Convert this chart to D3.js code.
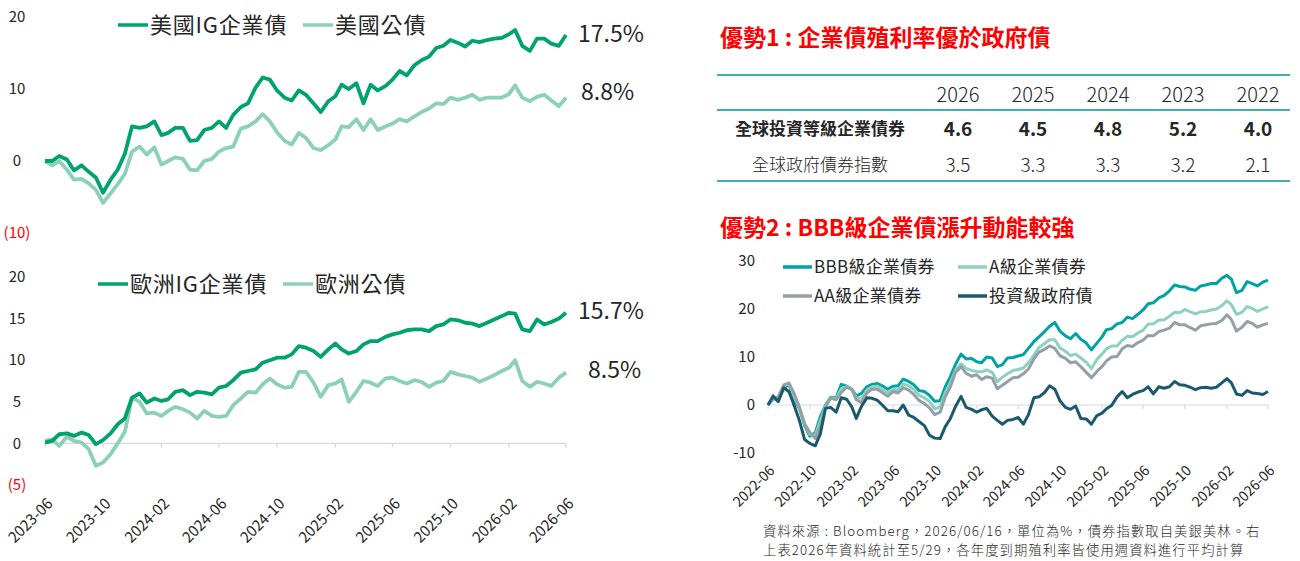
<!DOCTYPE html>
<html lang="zh-Hant">
<head>
<meta charset="UTF-8">
<title>IG bonds</title>
<script src="https://cdn.jsdelivr.net/npm/d3@7/dist/d3.min.js"></script>
<style>
    body { margin: 0; background: #fff; }
    svg text { font-family: "Noto Sans CJK TC", "Noto Sans", sans-serif; }
</style>
</head>
<body>
<script>

    // ---- data: left charts, half-month steps from 2023-06-16 to 2026-06-16 ----
    var usIG = [0, 0, 0.7, 0.2, -1.3, -0.6, -1.5, -2.3, -4.4, -2.6,
        -1.2, 1.0, 4.8, 4.6, 4.8, 5.5, 3.6, 3.9, 4.6, 4.6,
        2.8, 2.9, 4.3, 4.6, 5.5, 4.6, 6.4, 7.5, 8.0, 10.2,
        11.6, 11.3, 9.8, 8.8, 8.4, 9.8, 9.2, 8.0, 6.8, 8.3,
        9.0, 10.6, 10.0, 10.8, 8.0, 10.6, 9.8, 10.4, 11.3, 12.5,
        11.9, 13.3, 14.0, 14.5, 15.7, 16.0, 16.8, 16.4, 15.9, 16.7,
        16.5, 16.8, 17.0, 17.1, 17.6, 18.2, 16.0, 15.3, 17.0, 17.0,
        16.3, 16.0, 17.5];
    var usGov = [0, -0.6, 0.0, -1.2, -2.6, -2.5, -3.1, -4.0, -5.8, -4.5,
        -3.2, -1.8, 1.3, 2.0, 0.9, 1.9, -0.5, 0.0, 0.5, 0.3,
        -1.2, -1.3, 0.0, 0.3, 1.3, 1.8, 2.0, 4.5, 4.8, 5.5,
        6.5, 5.5, 4.0, 2.8, 2.3, 3.9, 3.2, 1.8, 1.5, 2.2,
        3.0, 4.8, 4.7, 5.8, 4.3, 5.8, 4.3, 4.8, 5.2, 5.8,
        5.5, 6.2, 6.8, 7.3, 8.0, 7.9, 8.8, 8.5, 8.8, 9.2,
        8.5, 8.8, 8.8, 8.8, 9.3, 10.5, 8.8, 8.3, 8.9, 9.2,
        8.4, 7.6, 8.8];
    var euIG = [0.1, 0.3, 1.1, 1.2, 0.9, 1.3, 1.0, -0.1, 0.4, 1.2,
        2.3, 3.0, 5.5, 6.0, 4.9, 5.4, 5.1, 5.3, 6.2, 6.4,
        5.8, 6.2, 6.1, 5.9, 6.7, 6.9, 7.6, 8.5, 8.7, 8.9,
        9.7, 10.0, 10.3, 10.3, 10.7, 11.7, 11.5, 11.1, 10.4, 11.3,
        12.0, 11.3, 10.8, 11.1, 11.9, 12.3, 12.3, 12.8, 13.1, 13.3,
        13.6, 13.7, 13.7, 13.5, 14.1, 14.3, 14.9, 14.8, 14.5, 14.4,
        14.1, 14.5, 14.9, 15.3, 15.7, 15.6, 13.7, 13.5, 14.9, 14.3,
        14.6, 15.0, 15.7];
    var euGov = [0.3, 0.5, -0.3, 0.8, 0.3, 0.1, -0.7, -2.7, -2.3, -1.3,
        0.0, 1.4, 5.5, 5.0, 3.6, 3.7, 3.3, 3.9, 4.4, 4.1,
        3.7, 3.0, 3.9, 3.3, 3.2, 3.3, 4.6, 5.4, 6.2, 6.1,
        7.1, 7.8, 7.1, 6.7, 6.8, 8.6, 8.6, 7.3, 5.6, 7.0,
        7.2, 7.7, 5.0, 6.2, 7.5, 7.3, 6.9, 7.8, 7.9, 7.5,
        7.2, 7.6, 7.4, 6.8, 7.3, 7.5, 8.6, 8.3, 8.1, 7.9,
        7.4, 7.8, 8.2, 8.7, 9.1, 10.0, 7.5, 6.8, 7.4, 7.2,
        6.9, 7.9, 8.5];

    // ---- data: right chart, half-month steps from 2022-06-16 to 2026-06-16 ----
    var bbb = [0, 1.4, 1.0, 3.5, 4.3, 1.0, -0.8, -4.3, -6.5, -5.8,
        -2.4, 0.0, 1.6, 1.5, 4.3, 3.9, 3.3, 1.9, 2.4, 3.8,
        4.3, 4.5, 4.0, 3.3, 3.9, 4.0, 5.4, 4.9, 4.2, 3.0,
        2.8, 2.0, 0.8, 0.9, 3.8, 5.9, 8.5, 10.6, 9.6, 9.7,
        9.0, 8.8, 10.0, 9.8, 8.0, 8.4, 9.8, 9.9, 10.2,
        10.5, 11.8, 13.2, 14.2, 15.3, 16.4, 17.2, 15.4, 14.4, 13.8,
        14.9, 13.7, 12.9, 11.5, 12.9, 14.2, 15.7, 15.9, 16.9, 17.2,
        18.3, 18.0, 18.9, 19.8, 21.1, 21.3, 22.3, 22.8, 23.8, 25.0,
        24.7, 24.6, 24.1, 23.9, 24.8, 25.0, 25.3, 25.3, 26.4, 27.0,
        26.2, 23.4, 23.9, 25.7, 25.3, 24.8, 25.6, 26.0];
    var aRated = [0, 1.3, 1.4, 3.9, 4.5, 1.6, -0.6, -4.0, -6.1, -6.4,
        -3.3, -0.2, 1.5, 1.3, 3.4, 3.8, 3.2, 1.5, 1.4, 3.1,
        3.8, 3.9, 3.3, 2.5, 3.3, 3.2, 4.4, 4.0, 3.2, 2.0,
        1.5, 0.7, -0.8, -0.4, 2.6, 4.6, 7.3, 8.6, 7.6, 7.2,
        7.0, 6.9, 7.3, 6.8, 4.9, 5.8, 6.5, 7.2, 7.4,
        7.7, 8.8, 10.4, 12.0, 12.8, 13.6, 13.6, 11.9, 11.2, 10.3,
        10.6, 9.8, 8.9, 7.6, 9.5, 10.6, 11.7, 12.3, 12.3, 13.5,
        14.3, 14.2, 15.0, 15.6, 16.9, 16.9, 17.7, 17.7, 18.5, 19.3,
        19.2, 19.9, 19.4, 19.0, 19.4, 19.5, 19.8, 20.0, 20.7, 21.7,
        20.9, 18.9, 19.3, 20.5, 20.1, 19.5, 20.0, 20.5];
    var aa = [0, 1.2, 1.7, 4.2, 4.6, 2.3, -0.5, -3.9, -5.7, -7.0,
        -4.3, -0.5, 1.5, 1.1, 2.6, 3.7, 3.2, 1.1, 0.5, 2.5,
        3.3, 3.3, 2.6, 1.8, 2.8, 2.5, 3.6, 3.1, 2.2, 0.9,
        0.3, -0.6, -2.0, -1.5, 1.7, 3.8, 6.8, 8.0, 6.6, 6.0,
        6.3, 5.3, 5.9, 5.6, 3.4, 4.1, 4.9, 5.7, 5.8,
        6.5, 7.5, 9.6, 11.0, 11.6, 12.3, 11.8, 10.3, 9.7, 8.8,
        9.0, 8.0, 6.8, 5.7, 7.0, 8.0, 9.2, 10.0, 10.1, 11.7,
        12.4, 12.2, 13.0, 13.5, 14.5, 14.4, 15.3, 15.6, 16.0, 17.2,
        16.7, 16.7, 16.1, 15.6, 16.5, 16.7, 16.9, 17.0, 17.6, 18.8,
        17.8, 15.4, 16.2, 17.4, 17.0, 16.2, 16.7, 17.0];
    var govIdx = [0, 1.9, 0.7, 3.6, 2.8, -0.2, -3.3, -7.2, -8.0, -8.5,
        -6.0, -0.7, -0.5, -1.5, 1.5, 1.2, -0.4, -2.8, -0.3, 1.5,
        1.4, 1.0, 0.0, -1.2, -1.2, -1.4, 0.0, -2.1, -2.6, -3.5,
        -4.3, -6.3, -6.9, -7.0, -4.5, -2.8, -0.3, 1.8, -0.5, -0.9,
        -1.5, -1.0, -0.7, -2.3, -3.2, -4.0, -3.2, -3.0, -2.6,
        -4.0, -2.0, 1.5, 1.7, 2.6, 4.0, 3.3, 0.9, -0.5, -0.9,
        -0.2, -2.8, -2.9, -4.0, -2.2, -1.7, -0.8, -0.1, 1.7, 2.8,
        1.5, 2.2, 2.7, 3.0, 3.8, 2.3, 3.8, 3.5, 3.8, 4.9,
        4.2, 4.1, 3.7, 3.2, 3.6, 3.7, 3.5, 3.7, 4.6, 5.5,
        4.6, 2.3, 2.0, 3.0, 2.5, 2.4, 2.2, 2.8];

    // ---- table ----
    var tableYears = ["2026", "2025", "2024", "2023", "2022"];
    var corpYield = [4.6, 4.5, 4.8, 5.2, 4.0];
    var govYield = [3.5, 3.3, 3.3, 3.2, 2.1];
    var rowNames = ["全球投資等級企業債券", "全球政府債券指數"];

    var usTicks = [-10, 0, 10, 20];
    var euTicks = [-5, 0, 5, 10, 15, 20];
    var rtTicks = [-10, 0, 10, 20, 30];

    var cIG = "#00a36c", cGov = "#8dd0b9";
    var cBBB = "#00a3a3", cA = "#8ed1be", cAA = "#959fa6", cGovIdx = "#1a5a6c";

    // dates on the 16th and the 1st, alternating
    function halfMonths(year, month, n) {
        var out = [];
        for (var i = 0; i < n; i++) {
            if (i % 2 === 0) out.push(new Date(year, month + i / 2, 16));
            else out.push(new Date(year, month + (i + 1) / 2, 1));
        }
        return out;
    }
    var leftDates = halfMonths(2023, 5, usIG.length);
    var rightDates = halfMonths(2022, 5, bbb.length);

    var svg = d3.select("body").append("svg")
        .attr("width", 1300)
        .attr("height", 561);

    var ink = "#262626";
    var parenFmt = function (v) { return v < 0 ? "(" + Math.abs(v) + ")" : String(v); };

    // ---------- left column ----------
    var xL = d3.scaleTime()
        .domain([leftDates[0], leftDates[leftDates.length - 1]])
        .range([45, 566]);
    var yUS = d3.scaleLinear().domain([-10, 20]).range([233, 17]);
    var yEU = d3.scaleLinear().domain([-5, 20]).range([485, 277]);

    function drawLines(g, x, y, dates, series, width) {
        series.forEach(function (s) {
            var line = d3.line()
                .x(function (d, i) { return x(dates[i]); })
                .y(function (d) { return y(d); });
            g.append("path")
                .datum(s.values)
                .attr("fill", "none")
                .attr("stroke", s.color)
                .attr("stroke-width", width)
                .attr("stroke-linejoin", "round")
                .attr("d", line);
        });
    }

    function yLabels(g, y, ticks, xPos, anchor, fmt, redNeg, size) {
        g.selectAll(null)
            .data(ticks)
            .enter()
            .append("text")
            .attr("x", xPos)
            .attr("y", function (d) { return y(d); })
            .attr("dy", "0.35em")
            .attr("text-anchor", anchor)
            .style("font-size", size + "px")
            .style("fill", function (d) { return redNeg && d < 0 ? "#ff0000" : ink; })
            .text(fmt);
    }

    function legend(g, items, lineLen, size, spacing) {
        items.forEach(function (it) {
            g.append("line")
                .attr("x1", it.x).attr("x2", it.x + lineLen)
                .attr("y1", it.y).attr("y2", it.y)
                .attr("stroke", it.color)
                .attr("stroke-width", 3.5);
            g.append("text")
                .attr("x", it.x + lineLen + 2)
                .attr("y", it.y)
                .attr("dy", "0.36em")
                .style("font-size", size + "px")
                .style("letter-spacing", spacing + "px")
                .style("fill", ink)
                .text(it.name);
        });
    }

    function endLabel(g, x, y, values, dx, dy) {
        var last = values[values.length - 1];
        g.append("text")
            .attr("x", x + dx)
            .attr("y", y(last) + dy)
            .attr("dy", "0.36em")
            .style("font-size", "23px")
            .style("fill", ink)
            .text(last.toFixed(1) + "%");
    }

    // top-left: US
    var gUS = svg.append("g");
    yLabels(gUS, yUS, usTicks, 17, "middle", parenFmt, true, 15);
    drawLines(gUS, xL, yUS, leftDates, [
        { values: usGov, color: cGov },
        { values: usIG, color: cIG }
    ], 3.8);
    legend(gUS, [
        { x: 118, y: 25, color: cIG, name: "美國IG企業債" },
        { x: 303, y: 25, color: cGov, name: "美國公債" }
    ], 30, 22, 0.8);
    endLabel(gUS, 566, yUS, usIG, 12, -1);
    endLabel(gUS, 566, yUS, usGov, 15, -6);

    // bottom-left: Europe
    var gEU = svg.append("g");
    yLabels(gEU, yEU, euTicks, 17, "middle", parenFmt, true, 15);

    var leftTicks = d3.range(0, 10).map(function (k) { return new Date(2023, 5 + 4 * k, 16); });
    gEU.append("line")
        .attr("x1", xL.range()[0]).attr("x2", xL.range()[1])
        .attr("y1", yEU(0)).attr("y2", yEU(0))
        .attr("stroke", "#d9d9d9").attr("stroke-width", 1.3);
    gEU.selectAll(null).data(leftTicks).enter().append("line")
        .attr("x1", function (d) { return xL(d); }).attr("x2", function (d) { return xL(d); })
        .attr("y1", yEU(0)).attr("y2", yEU(0) + 4)
        .attr("stroke", "#d9d9d9").attr("stroke-width", 1.3);

    drawLines(gEU, xL, yEU, leftDates, [
        { values: euGov, color: cGov },
        { values: euIG, color: cIG }
    ], 3.8);
    legend(gEU, [
        { x: 98, y: 284, color: cIG, name: "歐洲IG企業債" },
        { x: 283, y: 284, color: cGov, name: "歐洲公債" }
    ], 30, 22, 0.8);
    endLabel(gEU, 566, yEU, euIG, 12, -2);
    endLabel(gEU, 566, yEU, euGov, 22, -3);

    var fmtMonth = d3.timeFormat("%Y-%m");
    gEU.selectAll(null).data(leftTicks).enter().append("text")
        .attr("transform", function (d) { return "translate(" + (xL(d) + 5) + ",501) rotate(-45)"; })
        .attr("text-anchor", "end")
        .attr("dy", "0.35em")
        .style("font-size", "15px")
        .style("fill", ink)
        .text(fmtMonth);

    // ---------- right column ----------
    var red = "#ff0000";
    svg.append("text")
        .attr("x", 720).attr("y", 38).attr("dy", "0.36em")
        .style("font-size", "23px").style("font-weight", "bold").style("fill", red)
        .text("優勢1 : 企業債殖利率優於政府債");

    // table
    var gT = svg.append("g");
    var colX = d3.scalePoint().domain(tableYears).range([958, 1258]);
    [75, 110, 181].forEach(function (yy) {
        gT.append("line")
            .attr("x1", 717).attr("x2", 1290)
            .attr("y1", yy).attr("y2", yy)
            .attr("stroke", "#3fb2ae").attr("stroke-width", 2);
    });
    gT.selectAll(null).data(tableYears).enter().append("text")
        .attr("x", function (d) { return colX(d); })
        .attr("y", 95).attr("dy", "0.36em")
        .attr("text-anchor", "middle")
        .style("font-size", "20px").style("font-weight", 300).style("fill", ink)
        .text(function (d) { return d; });

    var rows = [
        { name: rowNames[0], values: corpYield, y: 129, bold: true },
        { name: rowNames[1], values: govYield, y: 165, bold: false }
    ];
    rows.forEach(function (r) {
        gT.append("text")
            .attr("x", 820).attr("y", r.y).attr("dy", "0.36em")
            .attr("text-anchor", "middle")
            .style("font-size", "17px")
            .style("font-weight", r.bold ? "bold" : 300)
            .style("fill", ink)
            .text(r.name);
        gT.selectAll(null).data(r.values).enter().append("text")
            .attr("x", function (d, i) { return colX(tableYears[i]); })
            .attr("y", r.y).attr("dy", "0.36em")
            .attr("text-anchor", "middle")
            .style("font-size", "19px")
            .style("font-weight", r.bold ? "bold" : 300)
            .style("fill", ink)
            .text(function (d) { return d.toFixed(1); });
    });

    svg.append("text")
        .attr("x", 720).attr("y", 228).attr("dy", "0.36em")
        .style("font-size", "23px").style("font-weight", "bold").style("fill", red)
        .text("優勢2 : BBB級企業債漲升動能較強");

    // rating chart
    var gR = svg.append("g");
    var xR = d3.scaleTime()
        .domain([rightDates[0], rightDates[rightDates.length - 1]])
        .range([768, 1268]);
    var yR = d3.scaleLinear().domain([-10, 30]).range([453, 261]);
    var rightTicks = d3.range(0, 13).map(function (k) { return new Date(2022, 5 + 4 * k, 16); });

    yLabels(gR, yR, rtTicks, 755, "end", function (d) { return String(d); }, false, 15);
    gR.append("line")
        .attr("x1", xR.range()[0]).attr("x2", xR.range()[1])
        .attr("y1", yR(0)).attr("y2", yR(0))
        .attr("stroke", "#d9d9d9").attr("stroke-width", 1.2);
    gR.selectAll(null).data(rightTicks).enter().append("line")
        .attr("x1", function (d) { return xR(d); }).attr("x2", function (d) { return xR(d); })
        .attr("y1", yR(0)).attr("y2", yR(0) + 4)
        .attr("stroke", "#d9d9d9").attr("stroke-width", 1.2);

    drawLines(gR, xR, yR, rightDates, [
        { values: bbb, color: cBBB },
        { values: aRated, color: cA },
        { values: aa, color: cAA },
        { values: govIdx, color: cGovIdx }
    ], 3);

    legend(gR, [
        { x: 783, y: 267, color: cBBB, name: "BBB級企業債券" },
        { x: 958, y: 267, color: cA, name: "A級企業債券" },
        { x: 783, y: 296, color: cAA, name: "AA級企業債券" },
        { x: 958, y: 296, color: cGovIdx, name: "投資級政府債" }
    ], 29, 17, 0.3);

    gR.selectAll(null).data(rightTicks).enter().append("text")
        .attr("transform", function (d) { return "translate(" + (xR(d) + 4) + ",468) rotate(-45)"; })
        .attr("text-anchor", "end")
        .attr("dy", "0.35em")
        .style("font-size", "14px")
        .style("fill", ink)
        .text(fmtMonth);

    // source note
    var notes = ["資料來源 : Bloomberg，2026/06/16，單位為%，債券指數取自美銀美林。右",
        "上表2026年資料統計至5/29，各年度到期殖利率皆使用週資料進行平均計算"];
    svg.selectAll(null).data(notes).enter().append("text")
        .attr("x", 763)
        .attr("y", function (d, i) { return 531 + i * 19.5; })
        .attr("dy", "0.36em")
        .style("font-size", "13.3px")
        .style("letter-spacing", "1.1px")
        .style("font-weight", 300)
        .style("fill", ink)
        .text(function (d) { return d; });

</script>
</body>
</html>
